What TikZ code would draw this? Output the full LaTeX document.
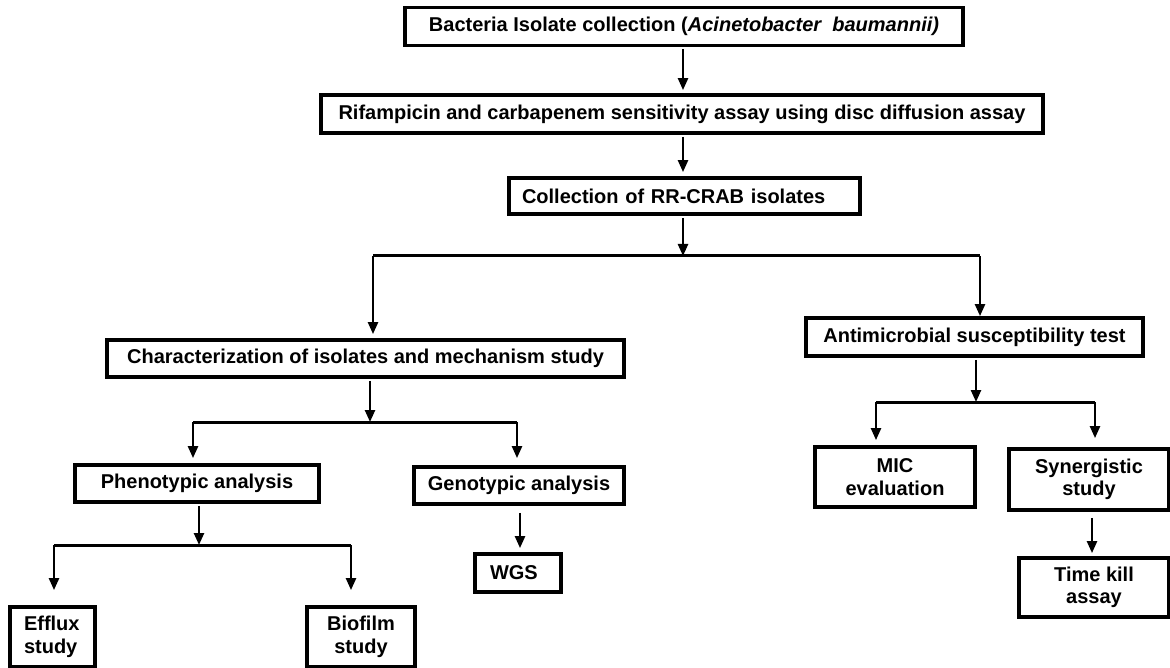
\documentclass[tikz,border=0pt]{standalone}
\usepackage{fontspec}
\setmainfont{Liberation Sans}
\usetikzlibrary{arrows.meta}
\begin{document}
\begin{tikzpicture}[x=1pt,y=-1pt,
  box/.style={draw=black,line width=3.8pt,rectangle,inner sep=0pt,font=\fontsize{20}{22.5}\selectfont\bfseries,align=center},
  arr/.style={line width=2.4pt,-{Triangle[length=12pt,width=10pt]}},
  bar/.style={line width=3pt}]
\useasboundingbox (0,0) rectangle (1170,668);
% boxes
\node[box,minimum width=558pt,minimum height=38pt] (b1) at (684,26.5) {Bacteria Isolate collection (\textit{Acinetobacter\ \ baumannii)}};
\node[box,minimum width=722pt,minimum height=38pt] (b2) at (682,114) {Rifampicin and carbapenem sensitivity assay using disc diffusion assay};
\node[box,minimum width=351pt,minimum height=36pt,text width=325pt,align=left] (b3) at (684.5,196) {Collection of RR-CRAB isolates};
\node[box,minimum width=517pt,minimum height=37pt] (ch) at (365.5,358.5) {Characterization of isolates and mechanism study};
\node[box,minimum width=337pt,minimum height=38pt] (ast) at (974.5,337) {Antimicrobial susceptibility test};
\node[box,minimum width=244pt,minimum height=37pt] (ph) at (197,483.5) {Phenotypic analysis};
\node[box,minimum width=210pt,minimum height=37pt] (ge) at (519,485.5) {Genotypic analysis};
\node[box,minimum width=85pt,minimum height=60pt,text width=57pt,align=left] (ef) at (52.5,637) {Efflux\\study};
\node[box,minimum width=108pt,minimum height=60pt] (bi) at (361,637) {Biofilm\\study};
\node[box,minimum width=86pt,minimum height=38pt,text width=56pt,align=left] (wgs) at (518,573) {WGS};
\node[box,minimum width=160pt,minimum height=60pt] (mic) at (895,477) {MIC\\evaluation};
\node[box,minimum width=160pt,minimum height=61pt] (syn) at (1089,479.5) {Synergistic\\study};
\node[box,minimum width=150pt,minimum height=59pt] (tk) at (1094,587.5) {Time kill\\assay};
% junctions
\coordinate (j1) at (683,256);
\coordinate (j1l) at (373,256);
\coordinate (j1r) at (980,256);
\coordinate (j2) at (370,422);
\coordinate (j2l) at (193,422);
\coordinate (j2r) at (517,422);
\coordinate (j3) at (199,545);
\coordinate (j3l) at (54,545);
\coordinate (j3r) at (351,545);
\coordinate (j4) at (976,402);
\coordinate (j4l) at (876,402);
\coordinate (j4r) at (1095,402);
% arrows
\draw[arr,shorten <=2pt,shorten >=3pt] (b1.south -| j1) -- (b2.north -| j1);
\draw[arr,shorten <=2pt,shorten >=4pt] (b2.south -| j1) -- (b3.north -| j1);
\draw[arr,shorten <=2pt] (b3.south -| j1) -- (j1);
\draw[bar] (j1l) -- (j1r);
\draw[arr,shorten >=4pt] (j1l) -- (j1l |- ch.north);
\draw[arr,shorten >=0pt] (j1r) -- (j1r |- ast.north);
\draw[arr,shorten <=2pt] (ch.south -| j2) -- (j2);
\draw[bar] (j2l) -- (j2r);
\draw[arr,shorten >=5pt] (j2l) -- (j2l |- ph.north);
\draw[arr,shorten >=7pt] (j2r) -- (j2r |- ge.north);
\draw[arr,shorten <=2pt] (ph.south -| j3) -- (j3);
\draw[bar] (j3l) -- (j3r);
\draw[arr,shorten >=15pt] (j3l) -- (j3l |- ef.north);
\draw[arr,shorten >=15pt] (j3r) -- (j3r |- bi.north);
\draw[arr,shorten <=7pt,shorten >=4pt] (ge.south -| 520,0) -- (wgs.north -| 520,0);
\draw[arr,shorten <=2pt] (ast.south -| j4) -- (j4);
\draw[bar] (j4l) -- (j4r);
\draw[arr,shorten >=5pt] (j4l) -- (j4l |- mic.north);
\draw[arr,shorten >=9pt] (j4r) -- (j4r |- syn.north);
\draw[arr,shorten <=6pt,shorten >=3pt] (syn.south -| 1092,0) -- (tk.north -| 1092,0);
\end{tikzpicture}
\end{document}
